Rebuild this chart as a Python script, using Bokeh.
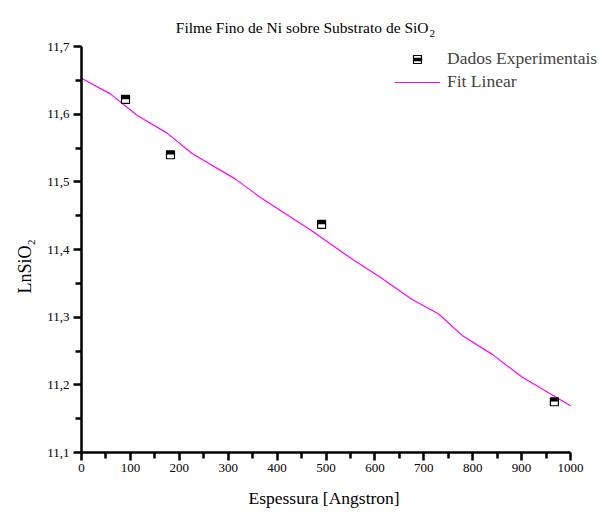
import math
from bokeh.plotting import figure
from bokeh.models import (ColumnDataSource, Range1d, FixedTicker, Legend, LegendItem, Label, Title)
from bokeh.transform import dodge
from bokeh.embed import file_html
from bokeh.resources import INLINE

# ---- data ----
exp_x = [90, 182, 491, 967]
exp_y = [11.622, 11.540, 11.437, 11.175]

fit_x = [0, 59, 114, 175, 226, 315, 366, 470, 557, 611, 676, 730, 780, 840, 900, 1000]
fit_y = [11.653, 11.630, 11.598, 11.572, 11.542, 11.504, 11.477, 11.428, 11.384,
         11.359, 11.326, 11.305, 11.272, 11.245, 11.212, 11.169]

x_ticks = [0, 100, 200, 300, 400, 500, 600, 700, 800, 900, 1000]
x_minor = [50, 150, 250, 350, 450, 550, 650, 750, 850, 950]
y_ticks = [11.1, 11.2, 11.3, 11.4, 11.5, 11.6, 11.7]
y_minor = [11.15, 11.25, 11.35, 11.45, 11.55, 11.65]
y_tick_labels = ["11,1", "11,2", "11,3", "11,4", "11,5", "11,6", "11,7"]

title_main = "Filme Fino de Ni sobre Substrato de SiO"
title_sub = "2"
x_label = "Espessura [Angstron]"
y_label = "LnSiO\u2082"
legend_exp = "Dados Experimentais"
legend_fit = "Fit Linear"

FONT = "Liberation Serif"

# frame spans screen x 81..604 and y 0..452; axes are bounded to the data window
X0, X1 = 0, 1000
Y0, Y1 = 11.1, 11.7
x_end = X0 + (X1 - X0) * (604 - 81) / (570 - 81)
y_end = Y0 + (Y1 - Y0) * 452 / (452 - 46)

p = figure(width=604, height=520, output_backend="svg", toolbar_location=None,
           x_range=Range1d(X0, x_end), y_range=Range1d(Y0, y_end),
           min_border_left=81, min_border_right=0, min_border_top=0, min_border_bottom=68)
p.outline_line_color = None
p.xgrid.visible = False
p.ygrid.visible = False
p.background_fill_color = "white"
p.border_fill_color = "white"

for ax, ticks, minor, bnds in ((p.xaxis[0], x_ticks, x_minor, (X0, X1)),
                               (p.yaxis[0], y_ticks, y_minor, (Y0, Y1))):
    ax.ticker = FixedTicker(ticks=ticks, minor_ticks=minor)
    ax.bounds = bnds
    ax.axis_line_width = 2.5
    ax.axis_line_color = "black"
    ax.major_tick_line_width = 2.5
    ax.minor_tick_line_width = 2.5
    ax.major_tick_in = 0
    ax.major_tick_out = 8
    ax.minor_tick_in = 0
    ax.minor_tick_out = 6
    ax.major_label_text_font = FONT
    ax.major_label_text_font_size = "13px"
    ax.major_label_text_color = "black"

p.xaxis[0].major_label_standoff = 3
p.yaxis[0].major_label_standoff = 4
p.yaxis[0].major_label_overrides = {t: l for t, l in zip(y_ticks, y_tick_labels)}

# axis titles as side titles so they can be shifted to the data window's centre
p.add_layout(Title(text=x_label, align="left", offset=167, standoff=22,
                   text_font=FONT, text_font_size="17.5px", text_font_style="normal",
                   text_color="black"), "below")
p.add_layout(Title(text=y_label, align="left", offset=159, standoff=20,
                   text_font=FONT, text_font_size="18px", text_font_style="normal",
                   text_color="black"), "left")

src = ColumnDataSource(dict(x=exp_x, y=exp_y))
fit_src = ColumnDataSource(dict(x=fit_x, y=fit_y))

r_fit = p.line("x", "y", source=fit_src, line_color="#FF00FF", line_width=1.2)
r_open = p.scatter("x", "y", source=src, marker="square", size=8,
                   fill_color="white", line_color="black", line_width=1.2)
r_top = p.scatter(x="x", y=dodge("y", 0.0028), source=src, marker="dash", size=7,
                  line_color="black", line_width=3.5)

legend = Legend(items=[LegendItem(label=legend_exp, renderers=[r_open, r_top]),
                       LegendItem(label=legend_fit, renderers=[r_fit])],
                location=(313, 360), glyph_width=46, glyph_height=20, label_height=20,
                spacing=2, padding=0, margin=0, label_standoff=7,
                border_line_color=None, background_fill_alpha=0,
                label_text_font=FONT, label_text_font_size="17.5px")
p.add_layout(legend)

# frame: left at screen x 81, bottom at screen y 452
def lab(text, sx, sy, size, align="left", angle=0.0):
    p.add_layout(Label(x=sx - 81, y=452 - sy, x_units="screen", y_units="screen",
                       text=text, text_font=FONT, text_font_size=size,
                       text_align=align, text_baseline="alphabetic", angle=angle,
                       text_color="black"))

lab(title_main, 428, 27, "15.5px", align="right")
lab(title_sub, 429, 33, "11px")

open("out.html", "w").write(file_html(p, INLINE))
